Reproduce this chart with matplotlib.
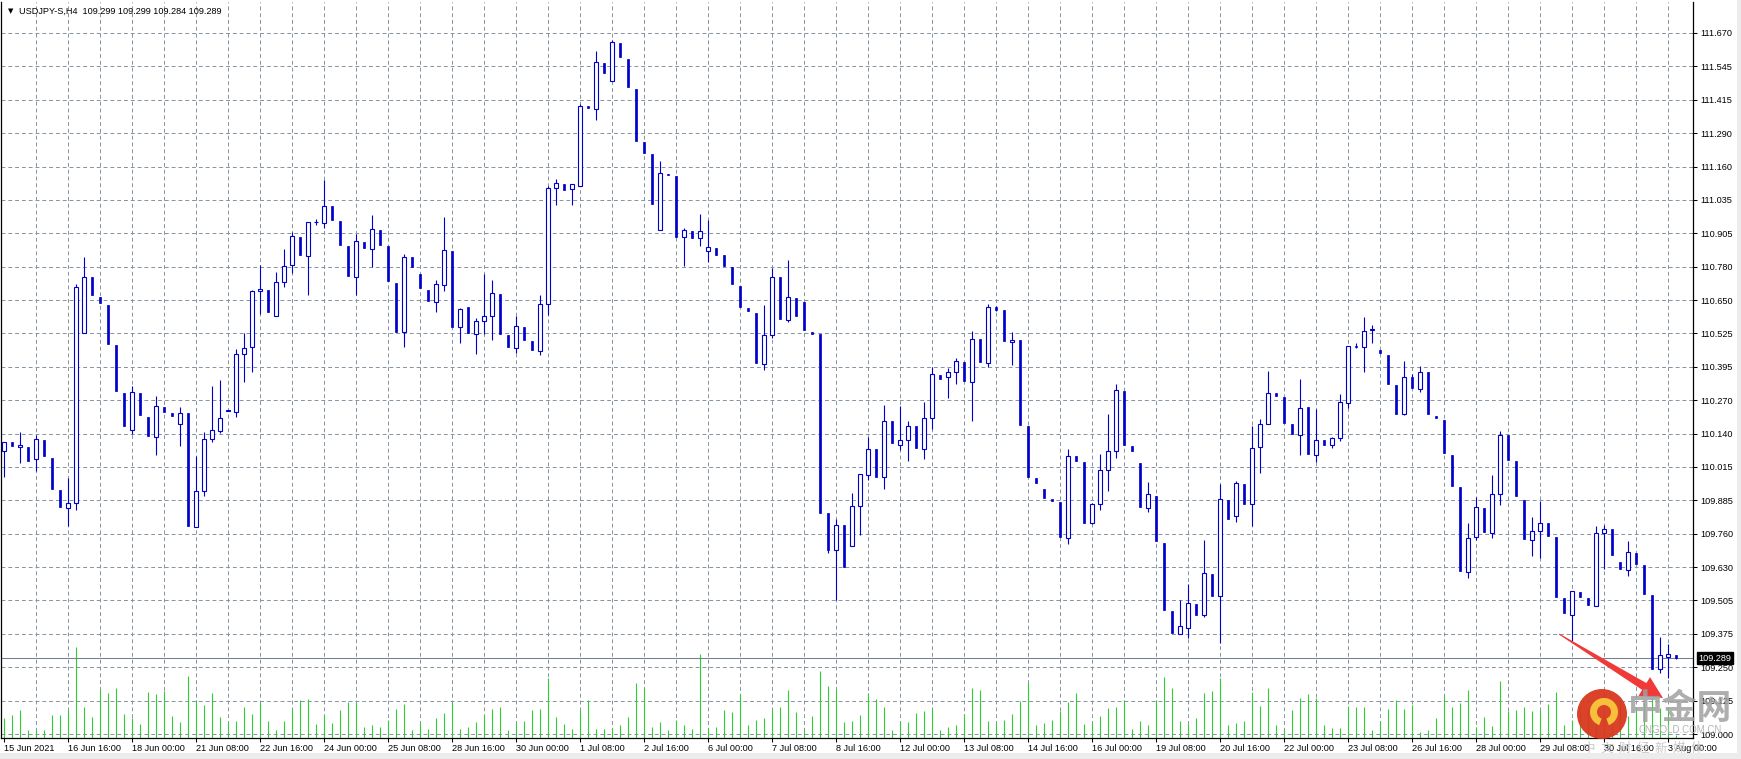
import numpy as np
import matplotlib.pyplot as plt
from matplotlib.patches import Rectangle, Circle, Wedge, Polygon

# USDJPY H4 candles (bar 0 = 15 Jun 2021 08:00)
opens = [
    110.077, 110.113, 110.093, 110.094, 110.048, 110.121, 110.052, 109.928, 109.862, 109.881,
    110.527, 110.741, 110.664, 110.634, 110.483, 110.299, 110.157, 110.299, 110.209, 110.132,
    110.247, 110.221, 110.181, 110.221, 109.788, 109.926, 110.124, 110.153, 110.231, 110.227,
    110.447, 110.474, 110.686, 110.691, 110.594, 110.720, 110.785, 110.893, 110.822, 110.949,
    110.945, 111.011, 110.954, 110.859, 110.741, 110.874, 110.846, 110.920, 110.859, 110.719,
    110.530, 110.817, 110.753, 110.692, 110.645, 110.709, 110.840, 110.550, 110.627, 110.524,
    110.572, 110.592, 110.677, 110.518, 110.470, 110.551, 110.495, 110.458, 110.638, 111.078,
    111.094, 111.074, 111.089, 111.393, 111.381, 111.557, 111.488, 111.633, 111.572, 111.458,
    111.254, 111.208, 110.919, 111.132, 111.125, 110.892, 110.915, 110.888, 110.839, 110.850,
    110.823, 110.779, 110.706, 110.622, 110.603, 110.410, 110.521, 110.742, 110.577, 110.662,
    110.647, 110.532, 110.522, 109.842, 109.702, 109.796, 109.716, 109.870, 109.988, 110.085,
    109.978, 110.191, 110.102, 110.118, 110.172, 110.086, 110.202, 110.369, 110.359, 110.380,
    110.415, 110.341, 110.503, 110.414, 110.626, 110.616, 110.494, 110.499, 110.172, 109.975,
    109.933, 109.895, 109.884, 109.746, 110.058, 110.035, 109.805, 109.877, 110.005, 110.079,
    110.308, 110.096, 110.031, 109.862, 109.907, 109.729, 109.468, 109.380, 109.403, 109.497,
    109.453, 109.610, 109.524, 109.891, 109.829, 109.952, 109.875, 110.095, 110.179, 110.297,
    110.282, 110.180, 110.140, 110.245, 110.064, 110.119, 110.101, 110.128, 110.261, 110.479,
    110.475, 110.540, 110.461, 110.444, 110.331, 110.219, 110.360, 110.313, 110.380, 110.212,
    110.195, 110.063, 109.941, 109.618, 109.751, 109.862, 109.767, 109.914, 110.139, 110.038,
    109.893, 109.740, 109.773, 109.802, 109.749, 109.518, 109.455, 109.539, 109.518, 109.488,
    109.767, 109.779, 109.657, 109.626, 109.690, 109.642, 109.529, 109.247, 109.295, 109.299,
]
highs = [
    110.113, 110.113, 110.151, 110.094, 110.137, 110.121, 110.052, 109.928, 109.974, 110.714,
    110.816, 110.741, 110.664, 110.634, 110.483, 110.299, 110.324, 110.299, 110.209, 110.288,
    110.247, 110.221, 110.247, 110.221, 110.060, 110.151, 110.326, 110.347, 110.233, 110.467,
    110.527, 110.690, 110.785, 110.691, 110.758, 110.846, 110.911, 110.893, 110.949, 110.960,
    111.109, 111.011, 110.954, 110.859, 110.903, 110.874, 110.977, 110.920, 110.859, 110.719,
    110.827, 110.817, 110.753, 110.692, 110.730, 110.969, 110.840, 110.622, 110.627, 110.584,
    110.753, 110.730, 110.677, 110.518, 110.591, 110.551, 110.495, 110.673, 111.088, 111.113,
    111.094, 111.093, 111.400, 111.393, 111.603, 111.557, 111.643, 111.633, 111.572, 111.458,
    111.254, 111.208, 111.182, 111.132, 111.125, 110.926, 110.915, 110.981, 110.959, 110.850,
    110.823, 110.779, 110.706, 110.622, 110.603, 110.635, 110.776, 110.742, 110.805, 110.662,
    110.647, 110.532, 110.522, 109.842, 109.820, 109.796, 109.918, 109.989, 110.130, 110.085,
    110.252, 110.191, 110.249, 110.194, 110.172, 110.263, 110.396, 110.369, 110.395, 110.433,
    110.415, 110.536, 110.503, 110.638, 110.630, 110.616, 110.531, 110.499, 110.172, 109.975,
    109.933, 109.895, 109.884, 110.085, 110.058, 110.035, 109.880, 110.066, 110.218, 110.335,
    110.308, 110.096, 110.031, 109.959, 109.907, 109.729, 109.468, 109.509, 109.570, 109.497,
    109.740, 109.610, 109.952, 109.891, 109.965, 109.952, 110.172, 110.199, 110.381, 110.297,
    110.282, 110.180, 110.354, 110.245, 110.237, 110.119, 110.130, 110.296, 110.479, 110.490,
    110.589, 110.559, 110.461, 110.444, 110.331, 110.419, 110.370, 110.400, 110.380, 110.212,
    110.195, 110.063, 109.941, 109.805, 109.903, 109.862, 109.988, 110.155, 110.139, 110.038,
    109.893, 109.825, 109.888, 109.802, 109.749, 109.518, 109.544, 109.539, 109.518, 109.791,
    109.797, 109.779, 109.657, 109.736, 109.690, 109.642, 109.529, 109.370, 109.341, 109.299,
]
lows = [
    109.977, 110.096, 110.032, 110.039, 110.002, 110.058, 109.932, 109.865, 109.792, 109.853,
    110.527, 110.672, 110.643, 110.484, 110.305, 110.172, 110.144, 110.214, 110.134, 110.062,
    110.227, 110.211, 110.096, 109.792, 109.788, 109.907, 110.111, 110.148, 110.231, 110.208,
    110.339, 110.377, 110.599, 110.608, 110.594, 110.701, 110.756, 110.825, 110.673, 110.940,
    110.929, 110.958, 110.863, 110.743, 110.673, 110.851, 110.780, 110.863, 110.724, 110.533,
    110.474, 110.780, 110.697, 110.648, 110.608, 110.686, 110.552, 110.489, 110.526, 110.447,
    110.523, 110.499, 110.523, 110.474, 110.451, 110.500, 110.462, 110.443, 110.596, 111.013,
    111.072, 111.015, 111.089, 111.384, 111.338, 111.517, 111.488, 111.577, 111.464, 111.259,
    111.214, 111.020, 110.919, 111.130, 110.894, 110.783, 110.891, 110.859, 110.797, 110.826,
    110.784, 110.713, 110.625, 110.610, 110.413, 110.387, 110.507, 110.579, 110.568, 110.591,
    110.537, 110.523, 109.842, 109.690, 109.512, 109.635, 109.716, 109.757, 109.969, 109.980,
    109.935, 110.109, 110.082, 110.041, 110.088, 110.048, 110.161, 110.352, 110.279, 110.333,
    110.344, 110.193, 110.416, 110.399, 110.610, 110.497, 110.404, 110.177, 109.980, 109.957,
    109.900, 109.889, 109.749, 109.722, 110.040, 109.805, 109.800, 109.854, 109.927, 110.052,
    110.101, 110.077, 109.865, 109.847, 109.734, 109.474, 109.383, 109.380, 109.367, 109.455,
    109.445, 109.524, 109.347, 109.820, 109.809, 109.877, 109.793, 109.996, 110.179, 110.287,
    110.185, 110.143, 110.063, 110.067, 110.036, 110.101, 110.090, 110.115, 110.242, 110.470,
    110.378, 110.491, 110.451, 110.333, 110.219, 110.215, 110.318, 110.304, 110.217, 110.203,
    110.069, 109.946, 109.622, 109.594, 109.739, 109.769, 109.745, 109.872, 110.044, 109.905,
    109.743, 109.678, 109.669, 109.754, 109.523, 109.462, 109.356, 109.523, 109.492, 109.488,
    109.628, 109.681, 109.628, 109.603, 109.647, 109.534, 109.248, 109.234, 109.214, 109.284,
]
closes = [
    110.113, 110.096, 110.102, 110.039, 110.124, 110.058, 109.932, 109.865, 109.881, 110.701,
    110.739, 110.672, 110.643, 110.484, 110.305, 110.172, 110.302, 110.214, 110.134, 110.250,
    110.227, 110.211, 110.223, 109.792, 109.927, 110.124, 110.157, 110.204, 110.233, 110.447,
    110.470, 110.686, 110.694, 110.608, 110.720, 110.784, 110.896, 110.825, 110.949, 110.952,
    111.010, 110.958, 110.863, 110.743, 110.877, 110.851, 110.922, 110.863, 110.724, 110.533,
    110.816, 110.780, 110.697, 110.648, 110.714, 110.842, 110.552, 110.618, 110.526, 110.573,
    110.593, 110.680, 110.523, 110.474, 110.554, 110.500, 110.462, 110.638, 111.081, 111.097,
    111.072, 111.093, 111.393, 111.384, 111.559, 111.517, 111.636, 111.577, 111.464, 111.259,
    111.214, 111.020, 111.135, 111.130, 110.894, 110.919, 110.891, 110.915, 110.854, 110.826,
    110.784, 110.713, 110.625, 110.610, 110.413, 110.521, 110.741, 110.579, 110.664, 110.591,
    110.537, 110.523, 109.842, 109.702, 109.796, 109.635, 109.867, 109.989, 110.087, 109.980,
    110.194, 110.109, 110.118, 110.175, 110.088, 110.202, 110.372, 110.352, 110.380, 110.421,
    110.344, 110.505, 110.416, 110.626, 110.616, 110.497, 110.502, 110.177, 109.980, 109.957,
    109.900, 109.889, 109.749, 110.060, 110.040, 109.805, 109.877, 110.005, 110.079, 110.311,
    110.101, 110.077, 109.865, 109.913, 109.734, 109.474, 109.383, 109.412, 109.500, 109.455,
    109.613, 109.524, 109.894, 109.820, 109.955, 109.877, 110.091, 110.179, 110.299, 110.287,
    110.185, 110.143, 110.243, 110.067, 110.121, 110.101, 110.128, 110.263, 110.479, 110.475,
    110.535, 110.542, 110.451, 110.333, 110.219, 110.360, 110.318, 110.380, 110.217, 110.203,
    110.069, 109.946, 109.622, 109.748, 109.866, 109.769, 109.914, 110.139, 110.044, 109.905,
    109.743, 109.774, 109.805, 109.754, 109.523, 109.462, 109.544, 109.523, 109.492, 109.767,
    109.782, 109.681, 109.628, 109.694, 109.647, 109.534, 109.248, 109.300, 109.304, 109.289,
]
# tick volume (relative)
volumes = [
    20, 23, 28, 8, 8, 8, 23, 23, 28, 90,
    31, 21, 48, 45, 50, 24, 20, 14, 46, 44,
    47, 22, 16, 62, 38, 33, 45, 21, 15, 17,
    31, 24, 36, 17, 8, 17, 29, 38, 39, 14,
    23, 15, 28, 36, 36, 11, 13, 11, 18, 29,
    34, 8, 15, 9, 20, 25, 36, 9, 11, 16,
    23, 29, 31, 8, 15, 17, 28, 29, 60, 21,
    14, 9, 28, 38, 9, 9, 10, 13, 21, 55,
    50, 11, 16, 8, 18, 13, 9, 84, 10, 11,
    28, 26, 44, 13, 18, 20, 29, 31, 48, 26,
    8, 22, 67, 52, 48, 16, 17, 23, 45, 39,
    31, 8, 16, 16, 25, 27, 30, 8, 11, 13,
    24, 50, 48, 17, 15, 18, 24, 37, 55, 13,
    15, 18, 27, 36, 45, 14, 15, 22, 30, 31,
    38, 9, 17, 13, 38, 61, 50, 17, 14, 20,
    45, 47, 60, 13, 15, 17, 46, 32, 50, 13,
    8, 28, 40, 44, 40, 13, 10, 10, 32, 31,
    31, 8, 16, 29, 38, 29, 33, 6, 8, 20,
    42, 31, 35, 48, 11, 21, 12, 57, 27, 28,
    31, 27, 28, 34, 46, 13, 18, 32, 30, 31,
    25, 30, 38, 22, 28, 35, 40, 30, 28, 3,
]

date_labels = ["15 Jun 2021", "16 Jun 16:00", "18 Jun 00:00", "21 Jun 08:00", "22 Jun 16:00",
               "24 Jun 00:00", "25 Jun 08:00", "28 Jun 16:00", "30 Jun 00:00", "1 Jul 08:00",
               "2 Jul 16:00", "6 Jul 00:00", "7 Jul 08:00", "8 Jul 16:00", "12 Jul 00:00",
               "13 Jul 08:00", "14 Jul 16:00", "16 Jul 00:00", "19 Jul 08:00", "20 Jul 16:00",
               "22 Jul 00:00", "23 Jul 08:00", "26 Jul 16:00", "28 Jul 00:00", "29 Jul 08:00",
               "30 Jul 16:00", "3 Aug 00:00"]
price_labels = ["109.000", "109.125", "109.250", "109.375", "109.505", "109.630", "109.760",
                "109.885", "110.015", "110.140", "110.270", "110.395", "110.525", "110.650",
                "110.780", "110.905", "111.035", "111.160", "111.290", "111.415", "111.545",
                "111.670"]
header = "USDJPY-S,H4  109.299 109.299 109.284 109.289"
last_price = 109.289

assert len(opens) == len(highs) == len(lows) == len(closes) == len(volumes) == 210

plt.rcParams['font.family'] = ['Liberation Sans', 'DejaVu Sans']

W, H = 1741, 759
BLUE = '#0000cd'
GRID = '#8593a2'
FS = 6.6

fig = plt.figure(figsize=(W / 100, H / 100), dpi=100)
fig.patch.set_facecolor('white')
# plot area in pixels: x 1..1693, y 2..738
ax = fig.add_axes([1 / W, 1 - 738 / H, 1692 / W, 736 / H])

px_price = 2.67 / 701  # price per pixel
ax.set_xlim(-3 / 8, -3 / 8 + 1692 / 8)
ax.set_ylim(109.0 - 4 * px_price, 111.67 + 31 * px_price)

o = np.array(opens)
h = np.array(highs)
l = np.array(lows)
c = np.array(closes)
x = np.arange(len(o))
up = c >= o

# grid
price_ticks = np.linspace(109.0, 111.67, len(price_labels))
for p in price_ticks:
    ax.axhline(p, color=GRID, lw=0.7, ls=(0, (4, 3)), zorder=1)
for b in range(4, len(o), 4):
    ax.axvline(b, color=GRID, lw=0.7, ls=(0, (4, 3)), zorder=1)

# volumes in the bottom of the window
vol = np.array(volumes, dtype=float)
ax.vlines(x, 0, vol / vol.max() * 0.123, color='#32cd32', lw=0.8,
          transform=ax.get_xaxis_transform(), zorder=2)

# last price line
ax.axhline(last_price, color='#708090', lw=0.75, zorder=2)

# candles
ax.vlines(x, l, h, color=BLUE, lw=0.8, zorder=3)
ax.bar(x[~up], (o - c)[~up], bottom=c[~up], width=0.3, color=BLUE,
       edgecolor=BLUE, lw=0.5, zorder=4)
ax.bar(x[up], (c - o)[up], bottom=o[up], width=0.5, facecolor='white',
       edgecolor=BLUE, lw=0.8, zorder=4)

# axes look
ax.spines['top'].set_visible(False)
for s in ['left', 'right', 'bottom']:
    ax.spines[s].set_color('black')
    ax.spines[s].set_linewidth(0.9)

ax.yaxis.tick_right()
ax.set_yticks(price_ticks)
ax.set_yticklabels(price_labels)
ax.tick_params(axis='y', direction='out', length=3, width=0.75, pad=2.5,
               labelsize=FS, colors='black')

ax.set_xticks(np.arange(0, 8 * len(date_labels), 8))
ax.set_xticklabels(date_labels, ha='left')
ax.tick_params(axis='x', direction='out', length=3, width=0.75, pad=1.5,
               labelsize=FS, colors='black')

# current price box
ax.annotate(f"{last_price:.3f}", xy=(1, last_price), xycoords=('axes fraction', 'data'),
            xytext=(4, 0), textcoords='offset points', va='center', ha='left',
            fontsize=FS, color='white',
            bbox=dict(boxstyle='square,pad=0.15', fc='black', ec='black'))

# header
fig.text(8 / W, 1 - 11 / H, "\u25bc", fontsize=5, va='center', ha='left',
         family=['DejaVu Sans'])
fig.text(19 / W, 1 - 11 / H, header, fontsize=FS, va='center', ha='left')

# window border
fig.add_artist(Rectangle((1737 / W, 0), 4 / W, 1, transform=fig.transFigure,
                         fc='#ececec', ec='none'))
fig.add_artist(Rectangle((0, 0), 1, 6 / H, transform=fig.transFigure,
                         fc='#ececec', ec='none'))

# red annotation arrow (pixel geometry)
p0 = np.array([1559.0, 634.0])
p1 = np.array([1663.0, 698.0])
d = p1 - p0
L = np.hypot(*d)
u = d / L
nrm = np.array([-u[1], u[0]])
base = p0 + u * (L - 22)
pts = [p0 + nrm * 0.5, base + nrm * 4, base + nrm * 11, p1,
       base - nrm * 11, base - nrm * 4, p0 - nrm * 0.5]
pts = [(q[0] / W, 1 - q[1] / H) for q in pts]
fig.add_artist(Polygon(pts, closed=True, transform=fig.transFigure,
                       fc='#f03a3a', ec='none', zorder=10))

# watermark
fig.add_artist(Circle((1602, H - 714), 25, transform=None, fc='#d8381e', ec='none',
                      zorder=10, alpha=0.95))
fig.add_artist(Wedge((1604, H - 712), 14, -70, 250, width=7, transform=None,
                     fc='#f6c03a', ec='none', zorder=11))
fig.text(1680 / W, 1 - 709 / H, "中金网", fontsize=25, fontweight='bold',
         color='#a0a0a0', alpha=0.85, ha='center', va='center',
         family=['Noto Sans CJK SC'], zorder=12)
fig.text(1680 / W, 1 - 730 / H, "CNGOLD.COM.CN", fontsize=7, color='#b4b4b4',
         ha='center', va='center', zorder=12)
fig.text(1643 / W, 1 - 748 / H, "中  文  财  经  新  媒  体", fontsize=9,
         color='#c4c4c4', alpha=0.9, ha='center', va='center',
         family=['Noto Sans CJK SC'], zorder=12)

fig.savefig('out.png', dpi=100)
